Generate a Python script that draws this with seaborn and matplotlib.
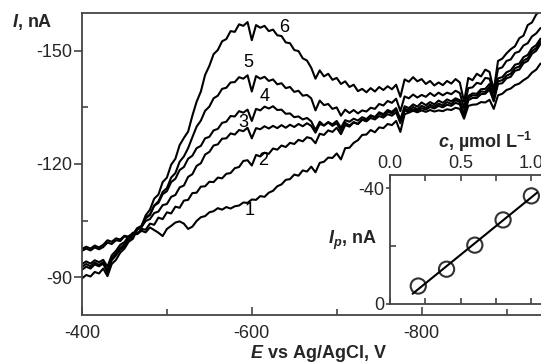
import numpy as np
import pandas as pd
import matplotlib
matplotlib.use("Agg")
import matplotlib.pyplot as plt
import seaborn as sns
from matplotlib.ticker import MultipleLocator

# ---------------- data ----------------
E = [-400, -405, -410, -415, -420, -425, -430, -435, -440, -445,
     -450, -455, -460, -465, -470, -475, -480, -485, -490, -495,
     -500, -505, -510, -515, -520, -525, -530, -535, -540, -545,
     -550, -555, -560, -565, -570, -575, -580, -585, -590, -595,
     -600, -605, -610, -615, -620, -625, -630, -635, -640, -645,
     -650, -655, -660, -665, -670, -675, -680, -685, -690, -695,
     -700, -705, -710, -715, -720, -725, -730, -735, -740, -745,
     -750, -755, -760, -765, -770, -775, -780, -785, -790, -795,
     -800, -805, -810, -815, -820, -825, -830, -835, -840, -845,
     -850, -855, -860, -865, -870, -875, -880, -885, -890, -895,
     -900, -905, -910, -915, -920, -925, -930, -935, -940]

I6 = [-89.7, -90.6, -90.2, -91.4, -91.0, -92.3, -90.3, -93.5, -94.6, -96.5,
      -97.6, -99.4, -100.2, -102.6, -103.5, -106.4, -107.9, -110.8, -111.9, -115.2,
      -116.4, -119.8, -121.4, -125.0, -126.9, -128.6, -132.8, -136.5, -139.2, -143.6,
      -146.0, -149.1, -150.2, -152.5, -153.1, -155.2, -155.0, -157.0, -156.6, -157.6,
      -152.8, -156.8, -156.1, -156.6, -155.2, -155.6, -154.1, -153.9, -152.2, -152.0,
      -150.2, -149.9, -148.0, -147.4, -145.5, -142.6, -144.8, -143.2, -143.9, -142.3,
      -142.8, -141.2, -141.9, -140.4, -141.0, -139.3, -139.9, -139.0, -140.1, -139.2,
      -140.4, -139.6, -140.6, -139.8, -141.0, -137.8, -142.4, -141.8, -143.0, -141.9,
      -142.5, -141.2, -142.0, -140.8, -141.6, -140.9, -142.0, -141.3, -142.5, -141.6,
      -136.5, -142.8, -142.2, -143.9, -143.2, -145.0, -144.4, -139.5, -147.3, -147.9,
      -149.3, -150.4, -151.2, -153.3, -154.0, -156.8, -157.5, -159.6, -160.6]

I5 = [-92.0, -92.8, -92.3, -93.4, -92.9, -93.6, -91.2, -94.5, -95.8, -97.3,
      -98.2, -100.0, -100.6, -102.7, -103.2, -105.6, -106.5, -109.0, -110.1, -112.6,
      -113.6, -116.4, -117.6, -120.6, -122.0, -124.2, -127.1, -129.9, -131.5, -134.1,
      -135.2, -137.4, -138.1, -139.9, -140.2, -141.6, -141.7, -143.0, -142.6, -143.5,
      -139.2, -143.3, -142.6, -143.1, -142.0, -142.4, -141.1, -141.4, -140.1, -140.4,
      -139.1, -139.4, -138.1, -138.3, -137.4, -134.2, -136.8, -135.6, -135.9, -134.6,
      -135.0, -132.8, -134.4, -133.5, -134.3, -133.4, -134.2, -133.9, -134.9, -134.6,
      -135.9, -135.5, -136.7, -136.2, -137.3, -134.0, -137.9, -137.4, -138.4, -137.6,
      -138.3, -137.8, -138.8, -138.0, -138.9, -138.2, -138.9, -138.5, -139.4, -138.8,
      -134.8, -140.1, -140.3, -141.5, -141.2, -142.8, -142.6, -139.0, -145.2, -145.6,
      -147.3, -147.7, -149.4, -149.8, -151.4, -152.0, -153.8, -154.6, -156.0]

I4 = [-92.8, -93.5, -92.9, -93.9, -93.3, -94.0, -91.8, -95.0, -96.3, -97.8,
      -98.7, -100.4, -101.2, -103.0, -103.6, -105.8, -106.6, -108.9, -109.7, -112.0,
      -112.8, -115.2, -116.1, -118.4, -119.2, -121.4, -122.2, -124.2, -124.8, -126.8,
      -127.2, -128.9, -129.3, -130.9, -131.2, -132.7, -132.6, -134.0, -133.6, -134.4,
      -131.4, -134.6, -134.2, -135.2, -134.7, -135.3, -134.3, -134.4, -133.3, -133.4,
      -132.4, -132.6, -131.8, -132.2, -131.3, -129.0, -131.2, -130.2, -131.0, -130.1,
      -130.8, -128.8, -130.9, -130.2, -131.1, -130.6, -131.8, -131.6, -132.8, -132.4,
      -133.7, -133.2, -134.3, -133.8, -134.8, -131.8, -135.3, -134.8, -135.8, -135.2,
      -136.3, -135.6, -136.4, -135.8, -136.8, -136.2, -137.1, -136.6, -137.4, -136.9,
      -133.2, -138.0, -138.7, -138.6, -139.8, -139.9, -141.2, -137.5, -142.7, -143.0,
      -144.3, -144.8, -146.3, -146.6, -148.3, -148.9, -150.7, -151.5, -153.2]

I3 = [-93.5, -94.2, -93.6, -94.5, -94.0, -94.6, -92.8, -95.8, -97.0, -98.6,
      -99.3, -100.9, -101.4, -102.9, -103.3, -104.9, -105.4, -107.0, -107.4, -109.1,
      -109.4, -111.3, -111.8, -113.8, -114.3, -116.6, -117.3, -119.5, -120.2, -122.5,
      -123.2, -124.9, -125.2, -126.7, -126.8, -128.1, -127.8, -129.0, -128.7, -129.6,
      -126.8, -129.5, -129.2, -130.0, -129.4, -130.1, -129.5, -130.3, -129.6, -130.4,
      -129.8, -130.6, -130.0, -130.8, -130.1, -128.3, -130.6, -130.2, -131.1, -130.5,
      -131.4, -129.6, -131.6, -131.2, -132.0, -131.5, -132.4, -131.9, -132.9, -132.4,
      -133.4, -132.8, -133.9, -133.4, -134.4, -131.2, -134.7, -134.2, -135.1, -134.5,
      -135.4, -134.9, -135.7, -135.2, -136.0, -135.5, -136.4, -135.9, -136.9, -136.4,
      -133.0, -137.5, -138.2, -138.1, -139.2, -139.1, -140.4, -137.0, -141.9, -142.2,
      -143.4, -143.9, -145.4, -145.8, -147.4, -148.0, -149.9, -150.7, -152.5]

I2 = [-97.0, -97.6, -97.1, -97.9, -97.4, -98.0, -99.2, -98.8, -99.8, -99.6,
      -100.8, -100.6, -101.8, -101.5, -102.8, -102.6, -104.2, -103.9, -105.8, -105.4,
      -107.2, -106.9, -108.7, -108.4, -110.3, -110.5, -112.3, -112.4, -114.0, -114.1,
      -115.3, -115.2, -116.4, -116.2, -117.4, -117.6, -118.9, -119.2, -120.8, -121.0,
      -119.6, -122.4, -122.0, -123.0, -122.7, -124.1, -123.8, -124.9, -124.5, -125.6,
      -125.3, -126.4, -126.0, -127.1, -126.8, -125.5, -128.0, -127.7, -128.9, -128.5,
      -129.6, -127.9, -130.3, -129.9, -131.0, -130.6, -131.7, -131.3, -132.2, -131.8,
      -132.7, -132.3, -133.2, -132.8, -133.7, -130.8, -134.2, -133.8, -134.5, -134.1,
      -134.8, -134.4, -135.1, -134.7, -135.4, -135.0, -135.7, -135.4, -136.2, -135.8,
      -132.6, -136.9, -137.5, -137.5, -138.5, -138.6, -139.7, -136.6, -141.2, -141.4,
      -142.7, -143.1, -144.7, -145.0, -146.7, -147.3, -149.2, -150.0, -151.8]

I1 = [-97.5, -98.1, -97.6, -98.4, -97.9, -98.6, -99.8, -99.4, -100.3, -100.0,
      -101.0, -100.7, -101.7, -101.4, -102.3, -101.9, -103.2, -102.5, -101.8, -100.9,
      -102.8, -103.6, -104.5, -104.8, -104.2, -102.8, -103.4, -104.9, -105.9, -106.2,
      -107.2, -107.5, -108.3, -107.9, -108.6, -108.2, -108.8, -109.0, -109.8, -109.7,
      -110.6, -110.5, -111.5, -111.3, -112.4, -112.9, -114.1, -114.6, -115.8, -116.0,
      -117.2, -116.9, -118.3, -118.0, -119.3, -117.8, -120.3, -120.6, -121.7, -121.6,
      -122.8, -121.2, -124.2, -124.3, -125.6, -126.3, -127.7, -127.8, -129.0, -128.4,
      -129.7, -129.5, -130.6, -130.3, -131.4, -128.5, -133.2, -133.6, -134.1, -133.7,
      -134.2, -133.8, -134.3, -133.9, -134.2, -134.0, -134.5, -134.3, -134.9, -134.6,
      -132.0, -135.4, -135.7, -135.8, -136.4, -136.3, -137.0, -134.6, -138.2, -138.6,
      -139.6, -140.0, -140.9, -141.3, -142.2, -142.9, -144.2, -145.0, -146.6]

curve_labels = ["1", "2", "3", "4", "5", "6"]
label_E = [-598, -613, -590, -615, -596, -638]
label_I = [-107.7, -120.9, -131.0, -137.8, -146.8, -156.1]

conc = [0.2, 0.4, 0.6, 0.8, 1.0]
Ip = [-6.2, -12.0, -20.3, -29.0, -37.3]

# ---------------- style ----------------
sns.set_theme(style="white")
plt.rcParams["font.family"] = ["Liberation Sans", "DejaVu Sans"]
plt.rcParams["axes.unicode_minus"] = False
plt.rcParams["mathtext.fontset"] = "custom"
plt.rcParams["mathtext.it"] = "Liberation Sans:italic:bold"
plt.rcParams["mathtext.rm"] = "Liberation Sans:bold"
plt.rcParams["mathtext.bf"] = "Liberation Sans:bold"

W, H = 541, 363
fig = plt.figure(figsize=(W / 100, H / 100), dpi=100)
fig.patch.set_facecolor("white")

# main axes (extends past right edge of image, as in the cropped original)
E_left, E_right = -400, -960
px_per_mV = 169.8 / 200
mx0, my0, my1 = 82, 13, 315
mx1 = mx0 + (E_left - E_right) * px_per_mV
ax = fig.add_axes([mx0 / W, 1 - my1 / H, (mx1 - mx0) / W, (my1 - my0) / H])

rows = []
for lab, arr in zip(curve_labels, [I1, I2, I3, I4, I5, I6]):
    for e, i in zip(E, arr):
        rows.append((lab, e, i))
df = pd.DataFrame(rows, columns=["curve", "E", "I"])

sns.lineplot(data=df, x="E", y="I", units="curve", estimator=None,
             color="black", lw=1.5, sort=False, legend=False, ax=ax)

for lab, xe, yi in zip(curve_labels, label_E, label_I):
    ax.text(xe, yi, lab, fontsize=13, ha="center", va="center", color="black")

ax.set_xlim(E_left, E_right)
ax.set_ylim(-80, -160)
ax.xaxis.set_major_locator(MultipleLocator(200))
ax.xaxis.set_minor_locator(MultipleLocator(100))
ax.yaxis.set_major_locator(MultipleLocator(30))
ax.yaxis.set_minor_locator(MultipleLocator(15))
ax.tick_params(axis="x", which="both", direction="in", bottom=True, top=False,
               labelsize=13, pad=7, color="#444444", width=1.2)
ax.tick_params(axis="x", which="major", length=6)
ax.tick_params(axis="x", which="minor", length=4)
ax.tick_params(axis="y", which="major", direction="out", left=True, length=6,
               labelsize=13, pad=1, color="#444444", width=1.2)
ax.tick_params(axis="y", which="minor", direction="in", left=True, length=4,
               color="#444444", width=1.2)
for s in ax.spines.values():
    s.set_color("#444444")
    s.set_linewidth(1.3)

ax.set_xlabel(r"$E$ vs Ag/AgCl, V", fontsize=13, fontweight="bold")
ax.xaxis.set_label_coords((318 - mx0) / (mx1 - mx0), (my1 - 343) / (my1 - my0))
ax.set_ylabel(r"$I$, nA", fontsize=13, fontweight="bold", rotation=0)
ax.yaxis.set_label_coords((32 - mx0) / (mx1 - mx0), (my1 - 32) / (my1 - my0))

# inset axes
ix0, ix1, iy0, iy1 = 390, 545.5, 175, 304
axi = fig.add_axes([ix0 / W, 1 - iy1 / H, (ix1 - ix0) / W, (iy1 - iy0) / H])
axi.set_facecolor("white")
sns.regplot(x=conc, y=Ip, ci=None, truncate=False, ax=axi,
            marker="o",
            scatter_kws=dict(s=120, facecolors="none", edgecolors="black", linewidths=1.5),
            line_kws=dict(color="black", lw=1.5))
axi.set_xlim(0, 1.1)
axi.set_ylim(0, -44.5)
axi.xaxis.set_major_locator(MultipleLocator(0.5))
axi.xaxis.set_minor_locator(MultipleLocator(0.25))
axi.yaxis.set_major_locator(MultipleLocator(40))
axi.yaxis.set_minor_locator(MultipleLocator(20))
axi.xaxis.set_major_formatter(matplotlib.ticker.FormatStrFormatter("%.1f"))
axi.tick_params(axis="x", which="both", direction="in", top=True, bottom=True,
                labeltop=True, labelbottom=False, labelsize=13, pad=2,
                color="#444444", width=1.2, length=4)
axi.tick_params(axis="y", which="major", direction="out", left=True, length=3,
                labelsize=13, pad=1, color="#444444", width=1.2)
axi.tick_params(axis="y", which="minor", direction="in", left=True, length=4,
                color="#444444", width=1.2)
for s in axi.spines.values():
    s.set_color("#444444")
    s.set_linewidth(1.3)
axi.xaxis.set_label_position("top")
axi.set_xlabel(r"$c$, µmol L$^{-1}$", fontsize=13, fontweight="bold")
axi.xaxis.set_label_coords((485 - ix0) / (ix1 - ix0), (iy1 - 148) / (iy1 - iy0))
axi.set_ylabel(r"$I_p$, nA", fontsize=13, fontweight="bold", rotation=0)
axi.yaxis.set_label_coords((352 - ix0) / (ix1 - ix0), (iy1 - 252) / (iy1 - iy0))

fig.savefig("out.png", dpi=100)
